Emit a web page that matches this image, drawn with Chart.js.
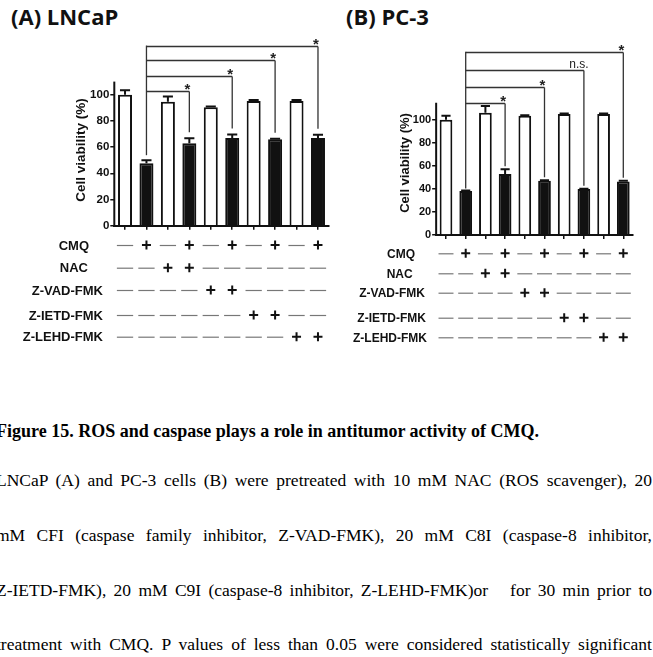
<!DOCTYPE html>
<html><head><meta charset="utf-8">
<script src="https://cdn.jsdelivr.net/npm/chart.js@4.4.1/dist/chart.umd.min.js"></script>
<style>
html,body{margin:0;padding:0;background:#fff;width:653px;height:657px;overflow:hidden;position:relative;}
.abs{position:absolute;}
.ptitle{font-family:'Open Sans';font-weight:bold;font-size:22px;line-height:22px;white-space:nowrap;color:#111;}
.cap{font-family:'Liberation Serif';font-size:17.5px;line-height:17.5px;white-space:nowrap;color:#000;}
.just{text-align:justify;text-align-last:justify;white-space:normal;}
</style></head>
<body>
<div class="abs ptitle" style="left:11px;top:5px">(A) LNCaP</div>
<div class="abs ptitle" style="left:346px;top:5px">(B) PC-3</div>
<canvas id="cA" class="abs" style="left:0;top:0" width="340" height="360"></canvas>
<canvas id="cB" class="abs" style="left:340px;top:0" width="313" height="360"></canvas>
<div class="abs cap" style="left:-4px;top:422px;font-weight:bold;font-size:18px;line-height:18px">Figure 15. ROS and caspase plays a role in antitumor activity of CMQ.</div>
<div class="abs cap just" style="left:-4px;width:656px;top:472px">LNCaP (A) and PC-3 cells (B) were pretreated with 10 mM NAC (ROS scavenger), 20</div>
<div class="abs cap just" style="left:-4px;width:656px;top:527px">mM CFI (caspase family inhibitor, Z-VAD-FMK), 20 mM C8I (caspase-8 inhibitor,</div>
<div class="abs cap just" style="left:-4px;width:656px;top:582px">Z-IETD-FMK), 20 mM C9I (caspase-8 inhibitor, Z-LEHD-FMK)or&nbsp;&nbsp; for 30 min prior to</div>
<div class="abs cap just" style="left:-4px;width:656px;top:636px">treatment with CMQ. P values of less than 0.05 were considered statistically significant</div>
<script>
// ---- data ----
const conditions = ['Control','CMQ','NAC','NAC+CMQ','Z-VAD-FMK','Z-VAD-FMK+CMQ','Z-IETD-FMK','Z-IETD-FMK+CMQ','Z-LEHD-FMK','Z-LEHD-FMK+CMQ'];
const treatments = ['CMQ','NAC','Z-VAD-FMK','Z-IETD-FMK','Z-LEHD-FMK'];
const cmqRow   = [0,1,0,1,0,1,0,1,0,1];
const nacRow   = [0,0,1,1,0,0,0,0,0,0];
const zvadRow  = [0,0,0,0,1,1,0,0,0,0];
const zietdRow = [0,0,0,0,0,0,1,1,0,0];
const zlehdRow = [0,0,0,0,0,0,0,0,1,1];
const yTicks = [0,20,40,60,80,100];
const lncapMeans  = [100.0, 47.6, 94.7, 62.9, 90.4, 67.0, 95.1, 66.0, 95.1, 67.0];
const lncapErrors = [3.4, 2.4, 4.0, 3.9, 0.5, 2.6, 0.8, 0.3, 0.8, 2.4];
const pc3Means    = [100.2, 38.3, 106.4, 53.0, 103.8, 47.2, 105.2, 40.0, 105.2, 46.6];
const pc3Errors   = [3.5, 0.5, 5.8, 4.1, 0.3, 0.4, 0.5, 0.2, 0.5, 0.5];
const compareRef = 1;
const compareTargets = [3,5,7,9];
const lncapSig = ['*','*','*','*'];
const pc3Sig   = ['*','*','n.s.','*'];
const lncapBracketLevels = [102.5, 114.5, 126.5, 137.5];
const pc3BracketLevels   = [115, 128.4, 143.5, 159.4];
const yAxisLabel = 'Cell viability (%)';

const rows = [cmqRow, nacRow, zvadRow, zietdRow, zlehdRow];

const panelPlugin = {
  id: 'panelExtras',
  afterDraw(chart, args, P) {
    const ctx = chart.ctx, x = chart.scales.x, y = chart.scales.y;
    const meta = chart.getDatasetMeta(0);
    ctx.save();
    // y axis line
    ctx.strokeStyle = '#111'; ctx.lineWidth = 2; ctx.lineCap = 'butt';
    ctx.beginPath();
    ctx.moveTo(x.left, y.getPixelForValue(0) + 1);
    ctx.lineTo(x.left, y.getPixelForValue(P.axisTop));
    ctx.stroke();
    // error bars (upper)
    P.means.forEach((m, i) => {
      const bar = meta.data[i];
      const cx = bar.x, w = bar.width;
      const yTop = y.getPixelForValue(m), yErr = y.getPixelForValue(m + P.errors[i]);
      ctx.lineWidth = 2; ctx.strokeStyle = '#111';
      ctx.beginPath();
      ctx.moveTo(cx, yTop); ctx.lineTo(cx, yErr);
      ctx.moveTo(cx - w * 0.36, yErr); ctx.lineTo(cx + w * 0.36, yErr);
      ctx.stroke();
    });
    // significance brackets
    const refX = x.getPixelForValue(compareRef);
    const refTop = y.getPixelForValue(P.means[compareRef] + P.errors[compareRef]);
    const topLevel = Math.max(...P.levels);
    ctx.strokeStyle = '#333'; ctx.lineWidth = 1.3;
    ctx.beginPath();
    ctx.moveTo(refX, y.getPixelForValue(topLevel));
    ctx.lineTo(refX, refTop - P.gapRef);
    ctx.stroke();
    compareTargets.forEach((t, k) => {
      const ly = Math.round(y.getPixelForValue(P.levels[k])) + 0.5;
      const tx = x.getPixelForValue(t);
      const tTop = y.getPixelForValue(P.means[t] + P.errors[t]);
      ctx.beginPath();
      ctx.moveTo(refX, ly); ctx.lineTo(tx, ly);
      ctx.moveTo(tx, ly); ctx.lineTo(tx, tTop - P.gapTarget);
      ctx.stroke();
      const lab = P.sig[k];
      ctx.fillStyle = '#222'; ctx.textAlign = 'center'; ctx.textBaseline = 'alphabetic';
      if (lab === '*') {
        ctx.font = 'bold 15px "Liberation Sans"';
        ctx.fillText(lab, tx - 2, ly + 0.57 * 15 - P.starLift);
      } else {
        ctx.font = '12px "Liberation Sans"';
        ctx.fillText(lab, tx - 5, ly - 3);
      }
    });
    // axis title
    ctx.save();
    ctx.translate(P.titleX, P.titleY);
    ctx.rotate(-Math.PI / 2);
    ctx.font = 'bold ' + P.titleSize + 'px "Liberation Sans"';
    ctx.fillStyle = '#111'; ctx.textAlign = 'center'; ctx.textBaseline = 'middle';
    ctx.fillText(yAxisLabel, 0, 0);
    ctx.restore();
    // treatment table
    const step = x.getPixelForValue(1) - x.getPixelForValue(0);
    rows.forEach((row, r) => {
      const ry = P.rowY[r];
      ctx.font = 'bold ' + P.rowSize + 'px "Liberation Sans"';
      ctx.fillStyle = '#111'; ctx.textAlign = 'right'; ctx.textBaseline = 'middle';
      ctx.fillText(treatments[r], P.rowLabelRight[r], ry + 1);
      row.forEach((v, i) => {
        const cx = x.getPixelForValue(i);
        if (v) {
          ctx.strokeStyle = '#111'; ctx.lineWidth = 2;
          ctx.beginPath();
          ctx.moveTo(cx - 4.5, ry); ctx.lineTo(cx + 4.5, ry);
          ctx.moveTo(cx, ry - 4.5); ctx.lineTo(cx, ry + 4.5);
          ctx.stroke();
        } else {
          ctx.strokeStyle = '#777'; ctx.lineWidth = 1.2;
          ctx.beginPath();
          ctx.moveTo(cx - step * 0.38, ry + 0.5); ctx.lineTo(cx + step * 0.38, ry + 0.5);
          ctx.stroke();
        }
      });
    });
    ctx.restore();
  }
};

function buildChart(id, P) {
  return new Chart(document.getElementById(id), {
    type: 'bar',
    data: {
      labels: conditions,
      datasets: [{
        data: P.means,
        backgroundColor: cmqRow.map(v => v ? '#111' : '#fff'),
        borderColor: '#111', borderWidth: 2, borderSkipped: 'start',
        barPercentage: P.barPct, categoryPercentage: 1
      }]
    },
    options: {
      responsive: false, animation: false, devicePixelRatio: 1,
      layout: { padding: { left: 0, right: P.padRight, top: P.padTop, bottom: 0 } },
      plugins: { legend: { display: false }, tooltip: { enabled: false }, panelExtras: P },
      scales: {
        x: {
          offset: true,
          grid: { offset: false, drawOnChartArea: false, drawTicks: true, tickLength: 4, color: '#111', lineWidth: 1.5 },
          border: { display: true, color: '#111', width: 2 },
          ticks: { display: false },
          afterFit(s) { s.height = P.xAxisHeight; }
        },
        y: {
          min: 0, max: P.yMax,
          grid: { drawOnChartArea: false, drawTicks: true, tickLength: 4, color: '#111', lineWidth: 1.5 },
          border: { display: false },
          ticks: { stepSize: 20, padding: 1, color: '#111', font: { family: 'Liberation Sans', weight: 'bold', size: P.tickSize } },
          afterBuildTicks(s) { s.ticks = yTicks.map(v => ({ value: v })); },
          afterFit(s) { s.width = P.yAxisWidth; }
        }
      }
    },
    plugins: [panelPlugin]
  });
}

buildChart('cA', {
  means: lncapMeans, errors: lncapErrors, sig: lncapSig, levels: lncapBracketLevels,
  yMax: 150, axisTop: 110, padTop: 29.2, xAxisHeight: 134.3, yAxisWidth: 114.3, padRight: 11.3,
  barPct: 0.653, gapRef: 5, gapTarget: 6, starLift: 6,
  tickSize: 11.5, titleX: 81.5, titleY: 150, titleSize: 13.5,
  rowY: [245, 267.7, 290, 315, 336.7], rowLabelRight: [89, 88, 103, 103, 103], rowSize: 13
});
buildChart('cB', {
  means: pc3Means, errors: pc3Errors, sig: pc3Sig, levels: pc3BracketLevels,
  yMax: 170, axisTop: 115, padTop: 39.5, xAxisHeight: 125, yAxisWidth: 96.15, padRight: 19.85,
  barPct: 0.645, gapRef: 2, gapTarget: 3, starLift: 6.5,
  tickSize: 11, titleX: 65, titleY: 163, titleSize: 13,
  rowY: [253.3, 273.3, 292.7, 317.7, 337.3], rowLabelRight: [75, 72.7, 85, 86, 87], rowSize: 12
});
</script>
</body></html>
